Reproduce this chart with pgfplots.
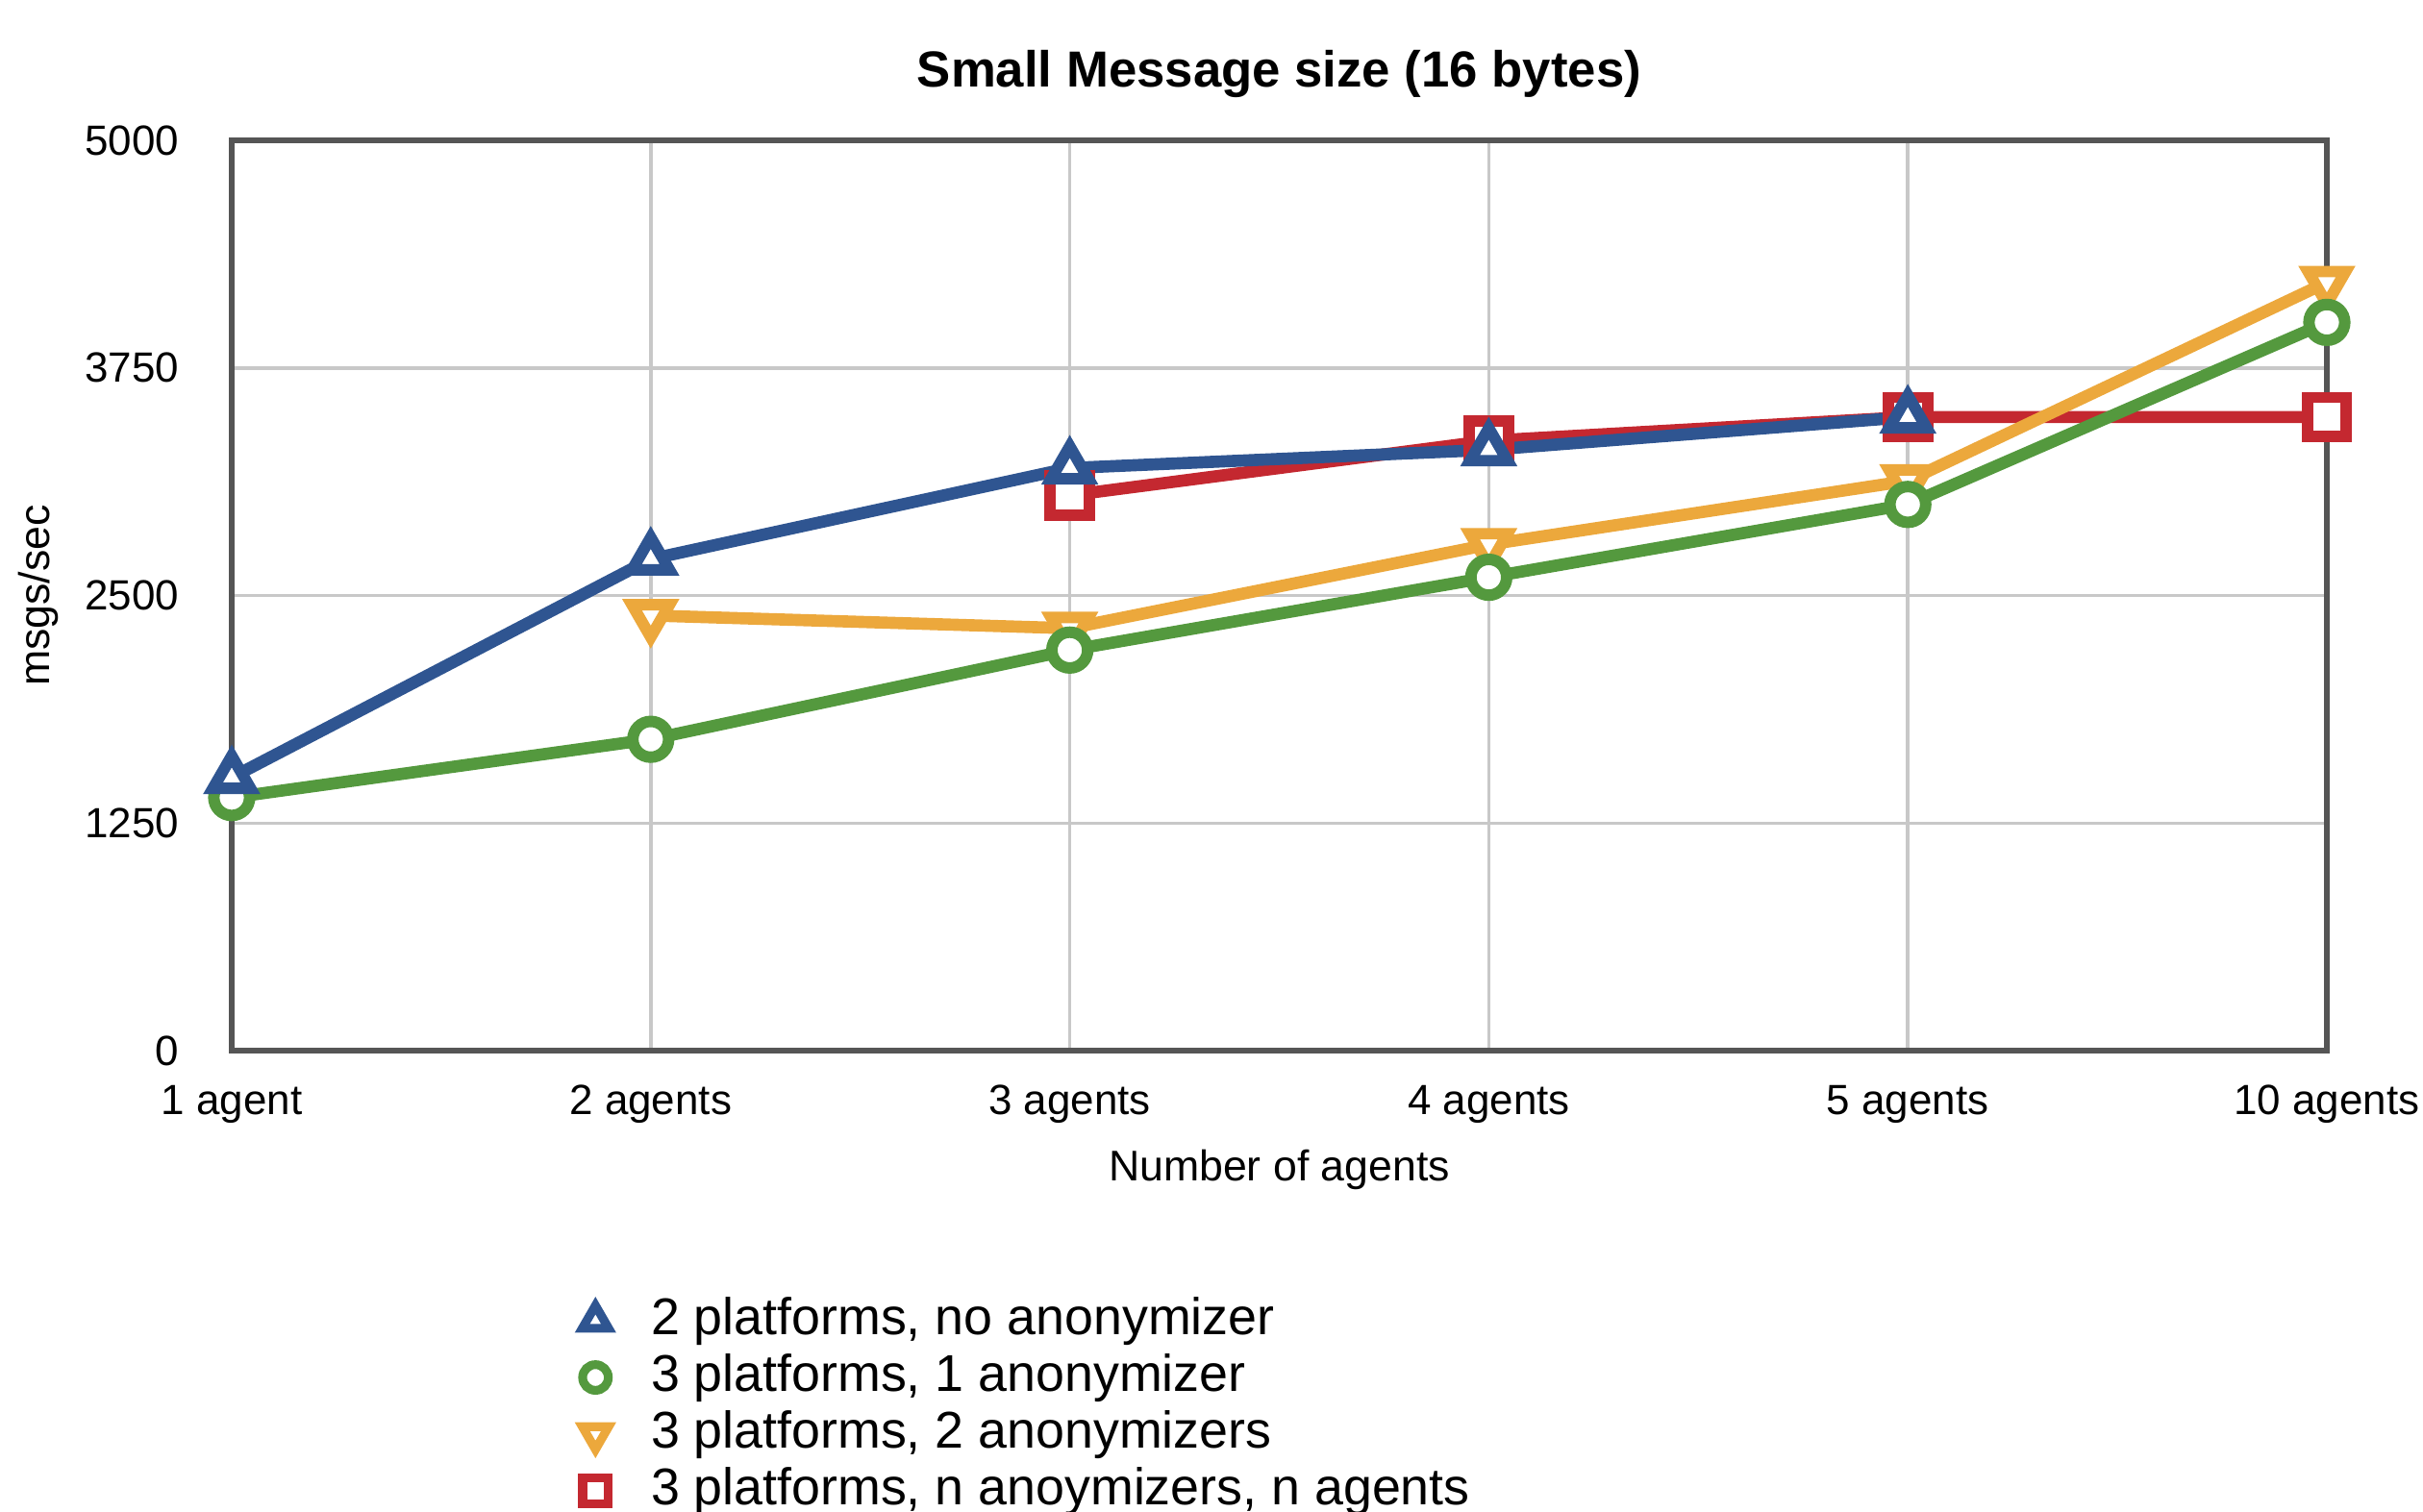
\documentclass[border=0pt]{standalone}
\usepackage{pgfplots}
\pgfplotsset{compat=1.18}
\usepackage{fontspec}
\setmainfont{Liberation Sans}
\definecolor{cblue}{RGB}{47,85,145}
\definecolor{cgreen}{RGB}{84,153,62}
\definecolor{corange}{RGB}{236,168,60}
\definecolor{cred}{RGB}{196,40,48}
\definecolor{gridc}{RGB}{200,200,200}
\definecolor{framec}{RGB}{85,85,85}
\begin{document}
\begin{tikzpicture}
\path[use as bounding box] (0,0) rectangle (25.2,15.72);
\begin{axis}[
  at={(2.41cm,4.79cm)}, anchor=south west,
  scale only axis, width=21.79cm, height=9.47cm,
  xmin=0, xmax=5, ymin=0, ymax=5000,
  xtick={0,1,2,3,4,5},
  xticklabels={1 agent,2 agents,3 agents,4 agents,5 agents,10 agents},
  ytick={0,1250,2500,3750,5000},
  yticklabels={0,1250,2500,3750,5000},
  major tick length=0pt,
  grid=major, major grid style={gridc, line width=1pt},
  axis line style={framec, line width=1.5pt},
  tick label style={font=\fontsize{12.5}{14}\selectfont},
  xticklabel style={anchor=base, yshift=-6.6mm},
  yticklabel style={anchor=east, inner sep=0pt, xshift=-5.4mm},
  title={\textbf{Small Message size (16 bytes)}},
  title style={font=\fontsize{15}{17}\selectfont, at={(axis description cs:0.5,1)}, anchor=center, yshift=4.8mm},
  xlabel={Number of agents},
  xlabel style={font=\fontsize{12.7}{14}\selectfont, at={(axis description cs:0.5,0)}, anchor=base, yshift=-13.5mm},
  ylabel={msgs/sec},
  ylabel style={font=\fontsize{12.7}{14}\selectfont, at={(axis description cs:-0.0922,0.5)}, anchor=center},
  clip=false,
  legend style={at={(axis description cs:0.167,-0.270)}, anchor=north west, draw=none, fill=none,
    inner sep=0pt, row sep=2.8pt, column sep=4.4mm,
    font=\fontsize{15.3}{17}\selectfont,
    nodes={inner sep=0pt, text height=11pt, text depth=3pt}},
  legend cell align=left,
]
% red first (bottom)
\addplot[cred, line width=3.6pt, mark=square*, mark size=5.8pt,
  mark options={fill=white, draw=cred, line width=3.4pt, solid}, forget plot]
  coordinates {(2,3050) (3,3350) (4,3480) (5,3480)};
\addplot[corange, line width=3.6pt, mark=triangle*, mark size=6.4pt,
  mark options={fill=white, draw=corange, line width=3.4pt, solid, rotate=180}, forget plot]
  coordinates {(1,2390) (2,2320) (3,2780) (4,3130) (5,4220)};
\addplot[cgreen, line width=3.6pt, mark=*, mark size=5.3pt,
  mark options={fill=white, draw=cgreen, line width=3.4pt, solid}, forget plot]
  coordinates {(0,1390) (1,1710) (2,2200) (3,2600) (4,3000) (5,4000)};
\addplot[cblue, line width=3.6pt, mark=triangle*, mark size=6.4pt,
  mark options={fill=white, draw=cblue, line width=3.4pt, solid}, forget plot]
  coordinates {(0,1500) (1,2700) (2,3200) (3,3300) (4,3480)};
\addlegendimage{only marks, mark=triangle*, mark size=4.5pt, mark options={fill=white, draw=cblue, line width=2.6pt}}
\addlegendentry{2 platforms, no anonymizer}
\addlegendimage{only marks, mark=*, mark size=3.8pt, mark options={fill=white, draw=cgreen, line width=2.6pt}}
\addlegendentry{3 platforms, 1 anonymizer}
\addlegendimage{only marks, mark=triangle*, mark size=4.5pt, mark options={fill=white, draw=corange, line width=2.6pt, rotate=180}}
\addlegendentry{3 platforms, 2 anonymizers}
\addlegendimage{only marks, mark=square*, mark size=3.8pt, mark options={fill=white, draw=cred, line width=2.6pt}}
\addlegendentry{3 platforms, n anoymizers, n agents}
\end{axis}
\end{tikzpicture}
\end{document}
